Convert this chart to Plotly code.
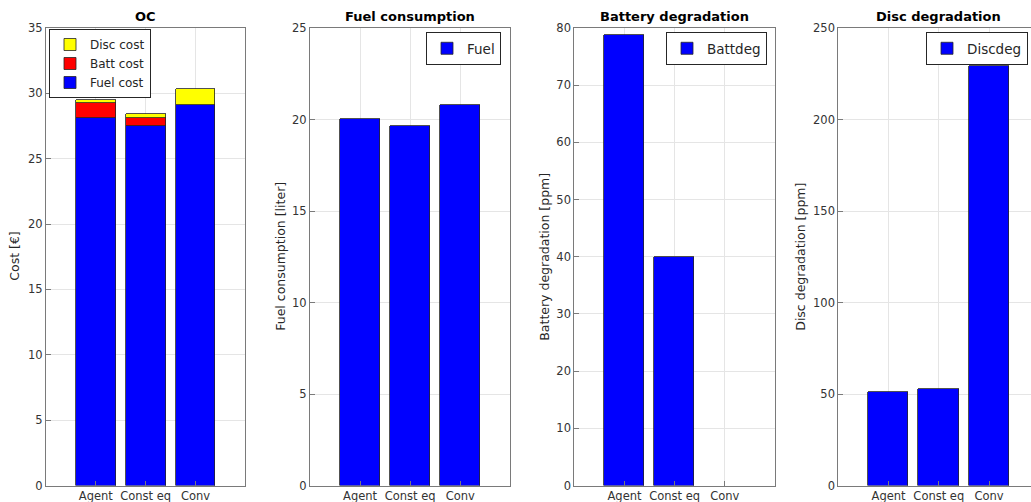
import plotly.graph_objects as go

categories = ["Agent", "Const eq", "Conv"]
fuel_cost = [28.12, 27.53, 29.11]
batt_cost = [1.12, 0.57, 0.0]
disc_cost = [0.26, 0.30, 1.20]
fuel_consumption = [20.05, 19.63, 20.80]
battery_degradation = [78.8, 39.9, 0.0]
disc_degradation = [51.3, 52.6, 229.3]

W, H = 1031, 502
xpos = [1, 2, 3]

def px(x):
    return x / W

def py(y):
    return 1 - y / H

top, bottom = 28, 485.5
panels = [(46, 245.3), (310, 510.3), (574.3, 775), (838.3, 1039.3)]
ytitle_x = [15, 281, 545, 801]

def edge(vals):
    return dict(color="#262626", width=[0.8 if v else 0 for v in vals])

fig = go.Figure()
fig.add_trace(go.Bar(x=xpos, y=fuel_cost, name="Fuel cost", marker=dict(color="#0000FF", line=edge(fuel_cost)),
                     xaxis="x", yaxis="y", legend="legend", width=0.8))
fig.add_trace(go.Bar(x=xpos, y=batt_cost, name="Batt cost", marker=dict(color="#FF0000", line=edge(batt_cost)),
                     xaxis="x", yaxis="y", legend="legend", width=0.8))
fig.add_trace(go.Bar(x=xpos, y=disc_cost, name="Disc cost", marker=dict(color="#FFFF00", line=edge(disc_cost)),
                     xaxis="x", yaxis="y", legend="legend", width=0.8))
fig.add_trace(go.Bar(x=xpos, y=fuel_consumption, name="Fuel",
                     marker=dict(color="#0000FF", line=edge(fuel_consumption)),
                     xaxis="x2", yaxis="y2", legend="legend2", width=0.8))
fig.add_trace(go.Bar(x=xpos, y=battery_degradation, name="Battdeg",
                     marker=dict(color="#0000FF", line=edge(battery_degradation)),
                     xaxis="x3", yaxis="y3", legend="legend3", width=0.8))
fig.add_trace(go.Bar(x=xpos, y=disc_degradation, name="Discdeg",
                     marker=dict(color="#0000FF", line=edge(disc_degradation)),
                     xaxis="x4", yaxis="y4", legend="legend4", width=0.8))

font = "DejaVu Sans"
axcol = "#7a7a7a"
gridcol = "#e5e5e5"
tickfont = dict(family=font, size=11.5, color="#333333")

yranges = [(0, 35, 5), (0, 25, 5), (0, 80, 10), (0, 250, 50)]
ytitles = ["Cost [€]", "Fuel consumption [liter]", "Battery degradation [ppm]", "Disc degradation [ppm]"]
titles = ["OC", "Fuel consumption", "Battery degradation", "Disc degradation"]

layout = dict(
    width=W, height=H, barmode="stack",
    margin=dict(l=0, r=0, t=0, b=0, autoexpand=False),
    paper_bgcolor="white", plot_bgcolor="white",
    font=dict(family=font, color="#262626"),
    bargap=0,
)

annotations = []
for i, ((x0, x1), (ymin, ymax, dt), yt, tt, tx) in enumerate(zip(panels, yranges, ytitles, titles, ytitle_x)):
    n = "" if i == 0 else str(i + 1)
    d1 = min(x1, W)
    xr_end = 4 * (d1 - x0) / (x1 - x0)
    layout["xaxis" + n] = dict(
        domain=[px(x0), px(d1)], anchor="y" + n, range=[0, xr_end],
        tickvals=xpos, ticktext=categories, tickfont=tickfont,
        showline=True, linecolor=axcol, linewidth=1, mirror=True,
        showgrid=True, gridcolor=gridcol, gridwidth=1, automargin=False,
        ticks="inside", ticklen=5, tickcolor=axcol, zeroline=False, fixedrange=True,
    )
    layout["yaxis" + n] = dict(
        domain=[py(bottom), py(top)], anchor="x" + n, range=[ymin, ymax], dtick=dt,
        tickfont=tickfont, showline=True, linecolor=axcol, linewidth=1,
        mirror=(i < 3), showgrid=True, gridcolor=gridcol, gridwidth=1, automargin=False,
        ticks="inside", ticklen=5, tickcolor=axcol, zeroline=False, fixedrange=True,
    )
    annotations.append(dict(text="<b>" + tt + "</b>", x=px((x0 + x1) / 2),
                            y=py(17), xref="paper", yref="paper",
                            xanchor="center", yanchor="middle", showarrow=False,
                            font=dict(family=font, size=13, color="black")))
    annotations.append(dict(text=yt, x=px(tx), y=py((top + bottom) / 2), xref="paper", yref="paper",
                            xanchor="center", yanchor="middle", showarrow=False, textangle=-90,
                            font=dict(family=font, size=12.5, color="#262626")))
layout["annotations"] = annotations

legbase = dict(bgcolor="white", bordercolor="#262626", borderwidth=1,
               yanchor="top", tracegroupgap=0, itemwidth=30)
layout["legend"] = dict(legbase, x=px(49), y=py(29), xanchor="left", traceorder="reversed",
                        font=dict(family=font, size=12, color="#262626"))
big = dict(family=font, size=13.5, color="#262626")
layout["legend2"] = dict(legbase, x=px(501), y=py(32), xanchor="right", font=big)
layout["legend3"] = dict(legbase, x=px(767), y=py(32), xanchor="right", font=big)
layout["legend4"] = dict(legbase, x=px(1028), y=py(32), xanchor="right", font=big)

fig.update_layout(**layout)
fig.write_html("out.html", config={"displayModeBar": False},
               post_script="document.body.style.margin='0';document.body.style.overflow='hidden';")
